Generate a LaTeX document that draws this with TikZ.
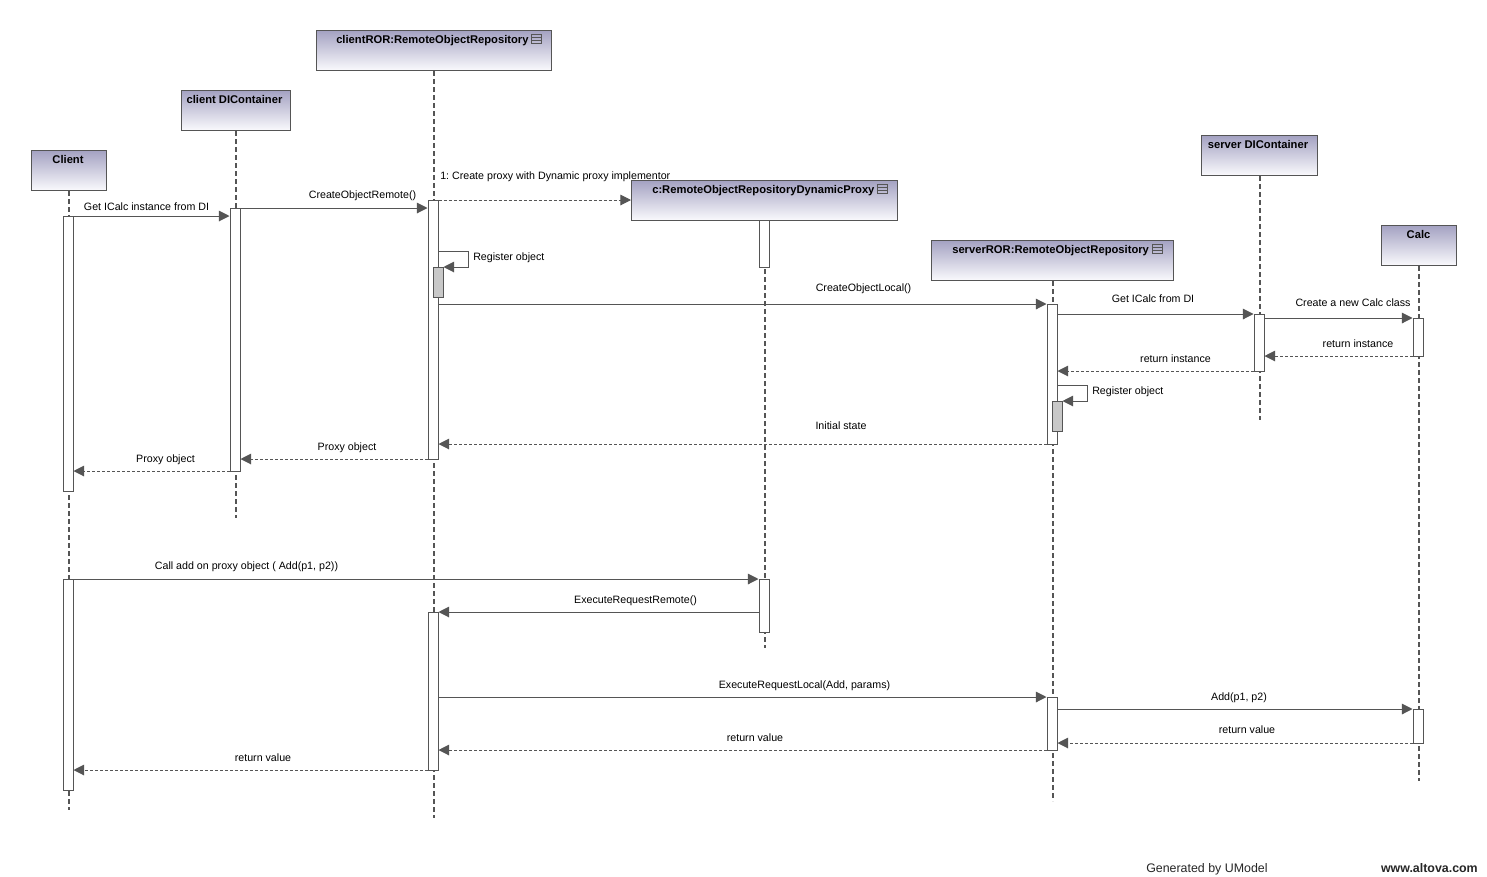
\documentclass[tikz,border=0pt]{standalone}
\usepackage{fontspec}
\setmainfont{Liberation Sans}
\usetikzlibrary{arrows.meta,fit}
\definecolor{ln}{RGB}{85,85,85}
\definecolor{htop}{RGB}{164,162,194}
\definecolor{hbot}{RGB}{250,250,253}
\definecolor{subfill}{RGB}{200,200,200}
\frenchspacing
\begin{document}
\begin{tikzpicture}[x=0.75pt,y=-0.75pt,
  header/.style={draw=ln, line width=0.75pt, top color=htop, bottom color=hbot, inner sep=0pt, anchor=north west, minimum height=30pt},
  htxt/.style={font=\bfseries\fontsize{8.4}{9}\selectfont, inner sep=0pt, anchor=base},
  life/.style={draw=ln, line width=1.5pt, dash pattern=on 3.75pt off 2.25pt},
  act/.style={draw=ln, fill=white, line width=0.75pt, inner sep=0pt},
  subact/.style={act, fill=subfill},
  msg/.style={draw=ln, line width=0.75pt, -{Triangle[length=8pt,width=8pt]}},
  ret/.style={msg, dash pattern=on 2.25pt off 1.5pt},
  lbl/.style={font=\fontsize{8}{9}\selectfont, inner sep=0pt, anchor=base},
  foot/.style={font=\fontsize{9.3}{10}\selectfont, text=black!85, inner sep=0pt, anchor=base},
  pics/opicon/.style={code={
    \draw[ln, line width=0.75pt] (0,0) rectangle (10,-9);
    \draw[ln, line width=0.75pt] (0,-3) -- (10,-3) (0,-6) -- (10,-6);}}
]
\fill[white] (0,0) rectangle (1487,876);
\path[use as bounding box] (0,0) rectangle (1487,876);

% headers
\node[header, minimum width=56.25pt] (hClient) at (31,150) {};
\node[header, minimum width=81.75pt] (hCDI) at (181,90) {};
\node[header, minimum width=176.25pt] (hCROR) at (316,30) {};
\node[header, minimum width=199.5pt] (hProxy) at (631,180) {};
\node[header, minimum width=181.5pt] (hSROR) at (931,240) {};
\node[header, minimum width=87pt] (hSDI) at (1201,135) {};
\node[header, minimum width=56.25pt] (hCalc) at (1381,225) {};

\node[htxt] (tClient) at (68,163.5) {Client};
\node[htxt] (tCDI) at (234.5,103.5) {client DIContainer};
\node[htxt, anchor=base west] (tCROR) at (336,43.5) {clientROR:RemoteObjectRepository};
\node[htxt, anchor=base west] (tProxy) at (652,193.5) {c:RemoteObjectRepositoryDynamicProxy};
\node[htxt, anchor=base west] (tSROR) at (952,253.5) {serverROR:RemoteObjectRepository};
\node[htxt] (tSDI) at (1258,148.5) {server DIContainer};
\node[htxt] (tCalc) at (1418.5,238.5) {Calc};
\pic at ([xshift=2.25pt]tCROR.base east) {opicon};
\pic at ([xshift=2.25pt]tProxy.base east) {opicon};
\pic at ([xshift=2.25pt]tSROR.base east) {opicon};

% lifelines
\draw[life] (hClient.south) -- (hClient.south |- 0,810);
\draw[life] (hCDI.south) -- (hCDI.south |- 0,518);
\draw[life] (hCROR.south) -- (hCROR.south |- 0,818);
\draw[life] (hProxy.south) -- (hProxy.south |- 0,648);
\draw[life] (hSROR.south) -- (hSROR.south |- 0,801);
\draw[life] (hSDI.south) -- (hSDI.south |- 0,420);
\draw[life] (hCalc.south) -- (hCalc.south |- 0,781);

% activations
\node[act, fit={(63,216) (73,491)}] (aC1) {};
\node[act, fit={(63,579) (73,790)}] (aC2) {};
\node[act, fit={(230,208) (240,471)}] (aD1) {};
\node[act, fit={(428,200) (438,459)}] (aR1) {};
\node[subact, fit={(433,267) (443,297)}] (aR1s) {};
\node[act, fit={(428,612) (438,770)}] (aR2) {};
\node[act, fit={(759,220) (769,267)}] (aP1) {};
\node[act, fit={(759,579) (769,632)}] (aP2) {};
\node[act, fit={(1047,304) (1057,444)}] (aS1) {};
\node[subact, fit={(1052,401) (1062,431)}] (aS1s) {};
\node[act, fit={(1047,697) (1057,750)}] (aS2) {};
\node[act, fit={(1254,314) (1264,371)}] (aT1) {};
\node[act, fit={(1413,318) (1423,356)}] (aK1) {};
\node[act, fit={(1413,709) (1423,743)}] (aK2) {};

% messages
\draw[msg] (aC1.east |- 0,216) -- (aD1.west |- 0,216);
\node[lbl] (m1) at (146.5,210) {Get ICalc instance from DI};
\draw[msg] (aD1.east |- 0,208) -- (aR1.west |- 0,208);
\node[lbl] (m2) at (362.5,198) {CreateObjectRemote()};
\draw[ret] (aR1.east |- 0,200) -- (hProxy.west |- 0,200);
\node[lbl, anchor=base west] (m3) at (440,179) {1: Create proxy with Dynamic proxy implementor};
\draw[msg] (aR1.east |- 0,251) -- ++(30,0) |- (aR1s.east |- 0,267);
\node[lbl, anchor=base west] (m4) at (473,260) {Register object};
\draw[msg] (aR1.east |- 0,304) -- (aS1.west |- 0,304);
\node[lbl] (m5) at (863.5,291) {CreateObjectLocal()};
\draw[msg] (aS1.east |- 0,314) -- (aT1.west |- 0,314);
\node[lbl] (m6) at (1153,302.7) {Get ICalc from DI};
\draw[msg] (aT1.east |- 0,318) -- (aK1.west |- 0,318);
\node[lbl] (m7) at (1353,306) {Create a new Calc class};
\draw[ret] (aK1.west |- 0,356) -- (aT1.east |- 0,356);
\node[lbl] (m8) at (1358,347) {return instance};
\draw[ret] (aT1.west |- 0,371) -- (aS1.east |- 0,371);
\node[lbl] (m9) at (1175.5,362) {return instance};
\draw[msg] (aS1.east |- 0,385) -- ++(30,0) |- (aS1s.east |- 0,401);
\node[lbl, anchor=base west] (m10) at (1092,394) {Register object};
\draw[ret] (aS1.west |- 0,444) -- (aR1.east |- 0,444);
\node[lbl] (m11) at (841,429) {Initial state};
\draw[ret] (aR1.west |- 0,459) -- (aD1.east |- 0,459);
\node[lbl] (m12) at (347,450) {Proxy object};
\draw[ret] (aD1.west |- 0,471) -- (aC1.east |- 0,471);
\node[lbl] (m13) at (165.5,462) {Proxy object};
\draw[msg] (aC2.east |- 0,579) -- (aP2.west |- 0,579);
\node[lbl] (m14) at (246.5,569) {Call add on proxy object ( Add(p1, p2))};
\draw[msg] (aP2.west |- 0,612) -- (aR2.east |- 0,612);
\node[lbl] (m15) at (635.5,603) {ExecuteRequestRemote()};
\draw[msg] (aR2.east |- 0,697) -- (aS2.west |- 0,697);
\node[lbl] (m16) at (804.5,688) {ExecuteRequestLocal(Add, params)};
\draw[msg] (aS2.east |- 0,709) -- (aK2.west |- 0,709);
\node[lbl] (m17) at (1239,700) {Add(p1, p2)};
\draw[ret] (aK2.west |- 0,743) -- (aS2.east |- 0,743);
\node[lbl] (m18) at (1247,733) {return value};
\draw[ret] (aS2.west |- 0,750) -- (aR2.east |- 0,750);
\node[lbl] (m19) at (755,741) {return value};
\draw[ret] (aR2.west |- 0,770) -- (aC2.east |- 0,770);
\node[lbl] (m20) at (263,761) {return value};

% footer
\node[foot, anchor=base west] (gen) at (1146,872) {Generated by UModel};
\node[foot, font=\bfseries\fontsize{9.3}{10}\selectfont, anchor=base east] (web) at (1478,872) {www.altova.com};
\end{tikzpicture}
\end{document}
